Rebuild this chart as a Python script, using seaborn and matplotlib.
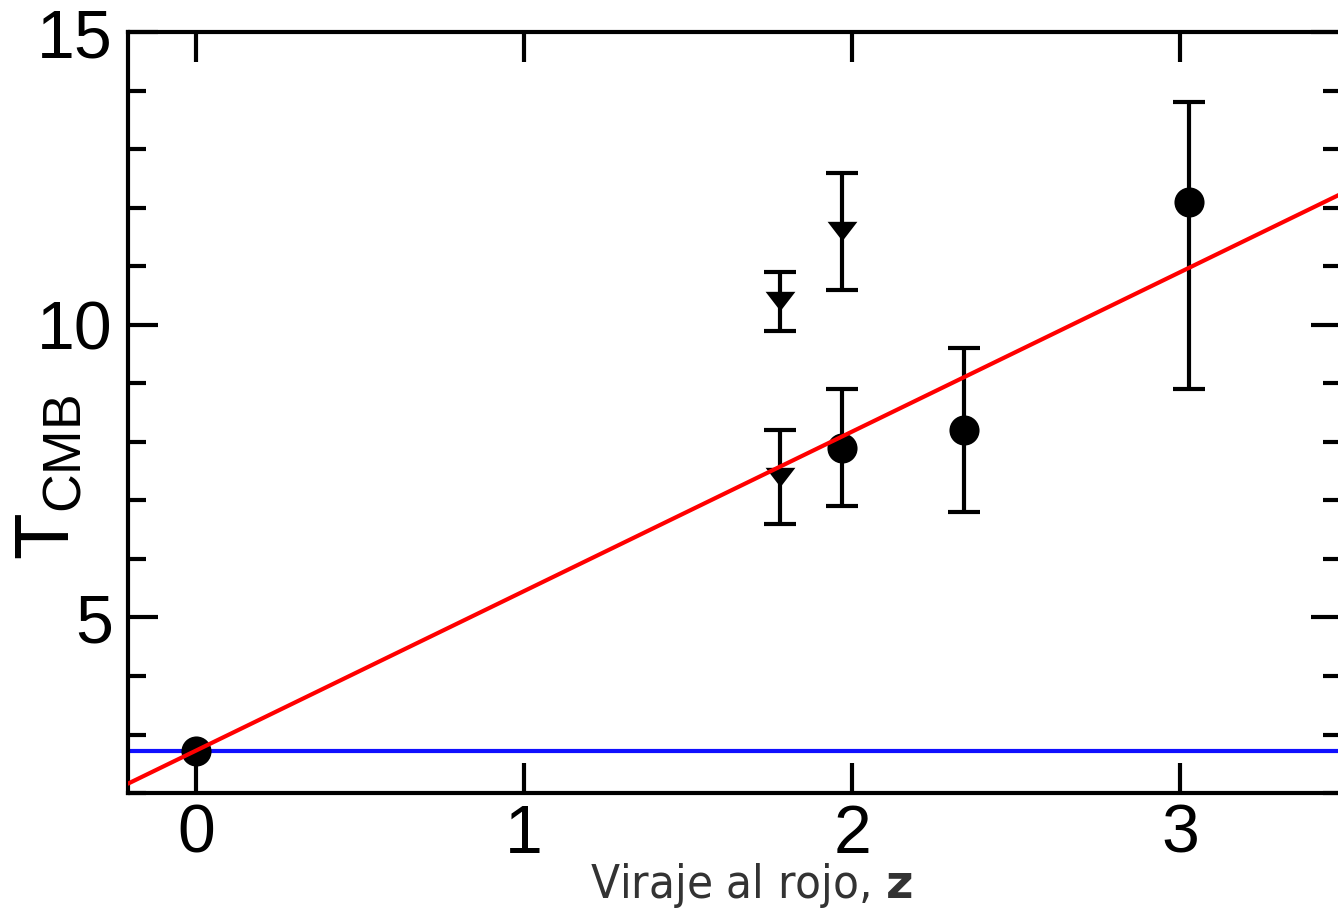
import matplotlib
matplotlib.use("Agg")
import matplotlib.pyplot as plt
from matplotlib.markers import MarkerStyle
from matplotlib.ticker import MultipleLocator
import seaborn as sns

# present-day CMB temperature
T_now = 2.725

# circles: measured T_CMB (asymmetric errors)
z_circ = [1.97, 2.34, 3.025]
T_circ = [7.9, 8.2, 12.1]
circ_lo = [1.0, 1.4, 3.2]
circ_hi = [1.0, 1.4, 1.7]

# triangles
z_tri = [1.78, 1.78, 1.97]
T_tri = [10.4, 7.4, 11.6]
tri_err = [0.5, 0.8, 1.0]

x_ticks = [0, 1, 2, 3]
y_ticks = [5, 10, 15]

sns.set_theme(style="ticks")
plt.rcParams["font.family"] = ["Liberation Sans", "DejaVu Sans"]
plt.rcParams["mathtext.fontset"] = "custom"
plt.rcParams["mathtext.rm"] = "Liberation Sans"
plt.rcParams["mathtext.bf"] = "DejaVu Sans:bold"

fig = plt.figure(figsize=(13.38, 9.23), dpi=100)
ax = fig.add_axes([0.0957, 0.1408, 0.9066, 0.8245])

ax.axhline(T_now, color="#1010ff", lw=3, zorder=1)

ax.errorbar(z_circ, T_circ, yerr=[circ_lo, circ_hi], fmt="none", ecolor="black",
            elinewidth=3, capsize=11.5, capthick=3, zorder=2)
ax.errorbar(z_tri, T_tri, yerr=tri_err, fmt="none", ecolor="black",
            elinewidth=3, capsize=11.5, capthick=3, zorder=2)

sns.scatterplot(x=[0.0] + z_circ, y=[T_now] + T_circ, marker="o", s=470,
                color="black", edgecolor="black", linewidth=0, ax=ax, zorder=3)
tri = MarkerStyle([(-1, 0.65), (1, 0.65), (0, -0.65)])
sns.scatterplot(x=z_tri, y=T_tri, marker=tri, s=460,
                color="black", edgecolor="black", linewidth=0, ax=ax, zorder=3)

# T = T0 (1 + z)
ax.axline((0, T_now), slope=T_now, color="#ff0000", lw=3, zorder=4)

ax.set_xlim(-0.207, 3.49)
ax.set_ylim(2, 15)
ax.set_xticks(x_ticks)
ax.set_yticks(y_ticks)
ax.yaxis.set_minor_locator(MultipleLocator(1))

for s in ax.spines.values():
    s.set_linewidth(3)
    s.set_color("black")
ax.tick_params(which="both", direction="in", top=True, right=True, width=3,
               color="black")
ax.tick_params(which="major", length=21.5, labelsize=49, colors="black")
ax.tick_params(axis="y", which="major", pad=11)
ax.tick_params(axis="x", which="major", pad=7)
ax.tick_params(which="minor", length=13)
ax.tick_params(axis="x", which="minor", bottom=False, top=False)

ax.set_xlabel("")
ax.set_ylabel("")
ax.text(-0.065, 0.415, r"T$_{\rm CMB}$", transform=ax.transAxes, rotation=90,
        ha="center", va="center", fontsize=55, color="black")

fig.text(751 / 1338, 1 - 886 / 923, r"Viraje al rojo, $\mathbf{z}$",
         ha="center", va="center", fontsize=34, color="#333333",
         family="DejaVu Sans", fontstretch="condensed")

fig.savefig("out.png", dpi=100)
